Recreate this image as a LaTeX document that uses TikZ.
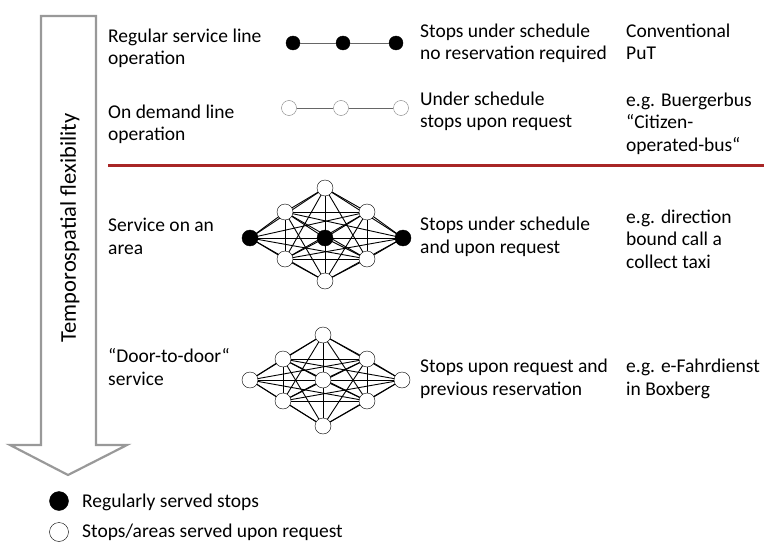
\documentclass[tikz,border=0pt]{standalone}
\usepackage{fontspec}
\setmainfont{Carlito}
\usetikzlibrary{backgrounds}

\begin{document}
\begin{tikzpicture}[x=1pt, y=-1pt]
    \tikzset{
      stop/.style={circle, draw, fill=black, inner sep=0pt, minimum size=14pt},
      request/.style={circle, draw=black!50, fill=white, inner sep=0pt, minimum size=15pt},
      area/.style={circle, draw, fill=white, inner sep=0pt, minimum size=16pt},
      areastop/.style={area, fill=black},
      legend/.style={circle, draw, inner sep=0pt, minimum size=19pt},
      txt/.style={anchor=base west, inner sep=0pt, align=left, font=\fontsize{19.5}{22.5}\selectfont},
      link/.style={draw=black, line width=0.9pt},
      track/.style={draw=black!60, line width=0.9pt},
    }
    \useasboundingbox (0,0) rectangle (764,543);

    % flexibility arrow
    \draw [black!40, line width=2.2pt, line join=miter]
      (41,16) -- (96,16) -- (96,445) -- (127,445) -- (68,475) -- (10,445) -- (41,445) -- cycle;
    \node [rotate=90, inner sep=0pt, font=\fontsize{22.5}{26}\selectfont] (flex) at (70,228) {Temporospatial flexibility};

    % row labels (base = last line)
    \node [txt] (op1) at (108,65)  {Regular service line\\operation};
    \node [txt] (op2) at (108,141) {On demand line\\operation};
    \node [txt] (op3) at (108,254) {Service on an\\area};
    \node [txt] (op4) at (108,385) {“Door-to-door“\\service};

    \node [txt] (st1) at (420,60)  {Stops under schedule\\no reservation required};
    \node [txt] (st2) at (420,128) {Under schedule\\stops upon request};
    \node [txt] (st3) at (420,253) {Stops under schedule\\and upon request};
    \node [txt] (st4) at (420,395) {Stops upon request and\\previous reservation};

    \node [txt] (ex1) at (626,60)  {Conventional\\PuT};
    \node [txt] (ex2) at (626,151) {e.g. Buergerbus\\“Citizen-\\operated-bus“};
    \node [txt] (ex3) at (626,268) {e.g. direction\\bound call a\\collect taxi};
    \node [txt] (ex4) at (626,395) {e.g. e-Fahrdienst\\in Boxberg};

    % line services
    \foreach \n/\x in {1/293, 2/343, 3/396}
      \node [stop] (s\n) at (\x,43) {};
    \draw [track] (s1) -- (s2) -- (s3);
    \foreach \n/\x in {1/289, 2/341, 3/401}
      \node [request] (r\n) at (\x,108) {};
    \draw [track] (r1) -- (r2) -- (r3);

    \draw [red!60!black!85, line width=3pt] (108,165) -- (764,165);

    % area services
    \foreach \n/\x/\y/\s in {t/325/188/area, ul/285/212/area, ur/367/212/area,
                             l/250/238/areastop, c/325/238/areastop, r/403/238/areastop,
                             ll/285/259/area, lr/367/259/area, b/325/281/area}
      \node [\s] (a\n) at (\x,\y) {};
    \foreach \n/\x/\y in {t/323/335, ul/283/359, ur/367/359,
                          l/250/380, c/323/380, r/402/380,
                          ll/283/401, lr/367/401, b/323/426}
      \node [area] (b\n) at (\x,\y) {};
    \begin{scope}[on background layer]
      \foreach \p [count=\i] in {t,ul,ur,l,c,r,ll,lr,b}
        \foreach \q [count=\j] in {t,ul,ur,l,c,r,ll,lr,b}
          {\ifnum\i<\j
             \draw [link] (a\p.center) -- (a\q.center);
             \draw [link] (b\p.center) -- (b\q.center);
           \fi}
    \end{scope}

    % legend
    \node [legend, fill=black] (k1) at (59,501) {};
    \node [legend, fill=white] (k2) at (59,532) {};
    \node [txt] (k1txt) at (82,507) {Regularly served stops};
    \node [txt] (k2txt) at (82,537) {Stops/areas served upon request};
\end{tikzpicture}
\end{document}
